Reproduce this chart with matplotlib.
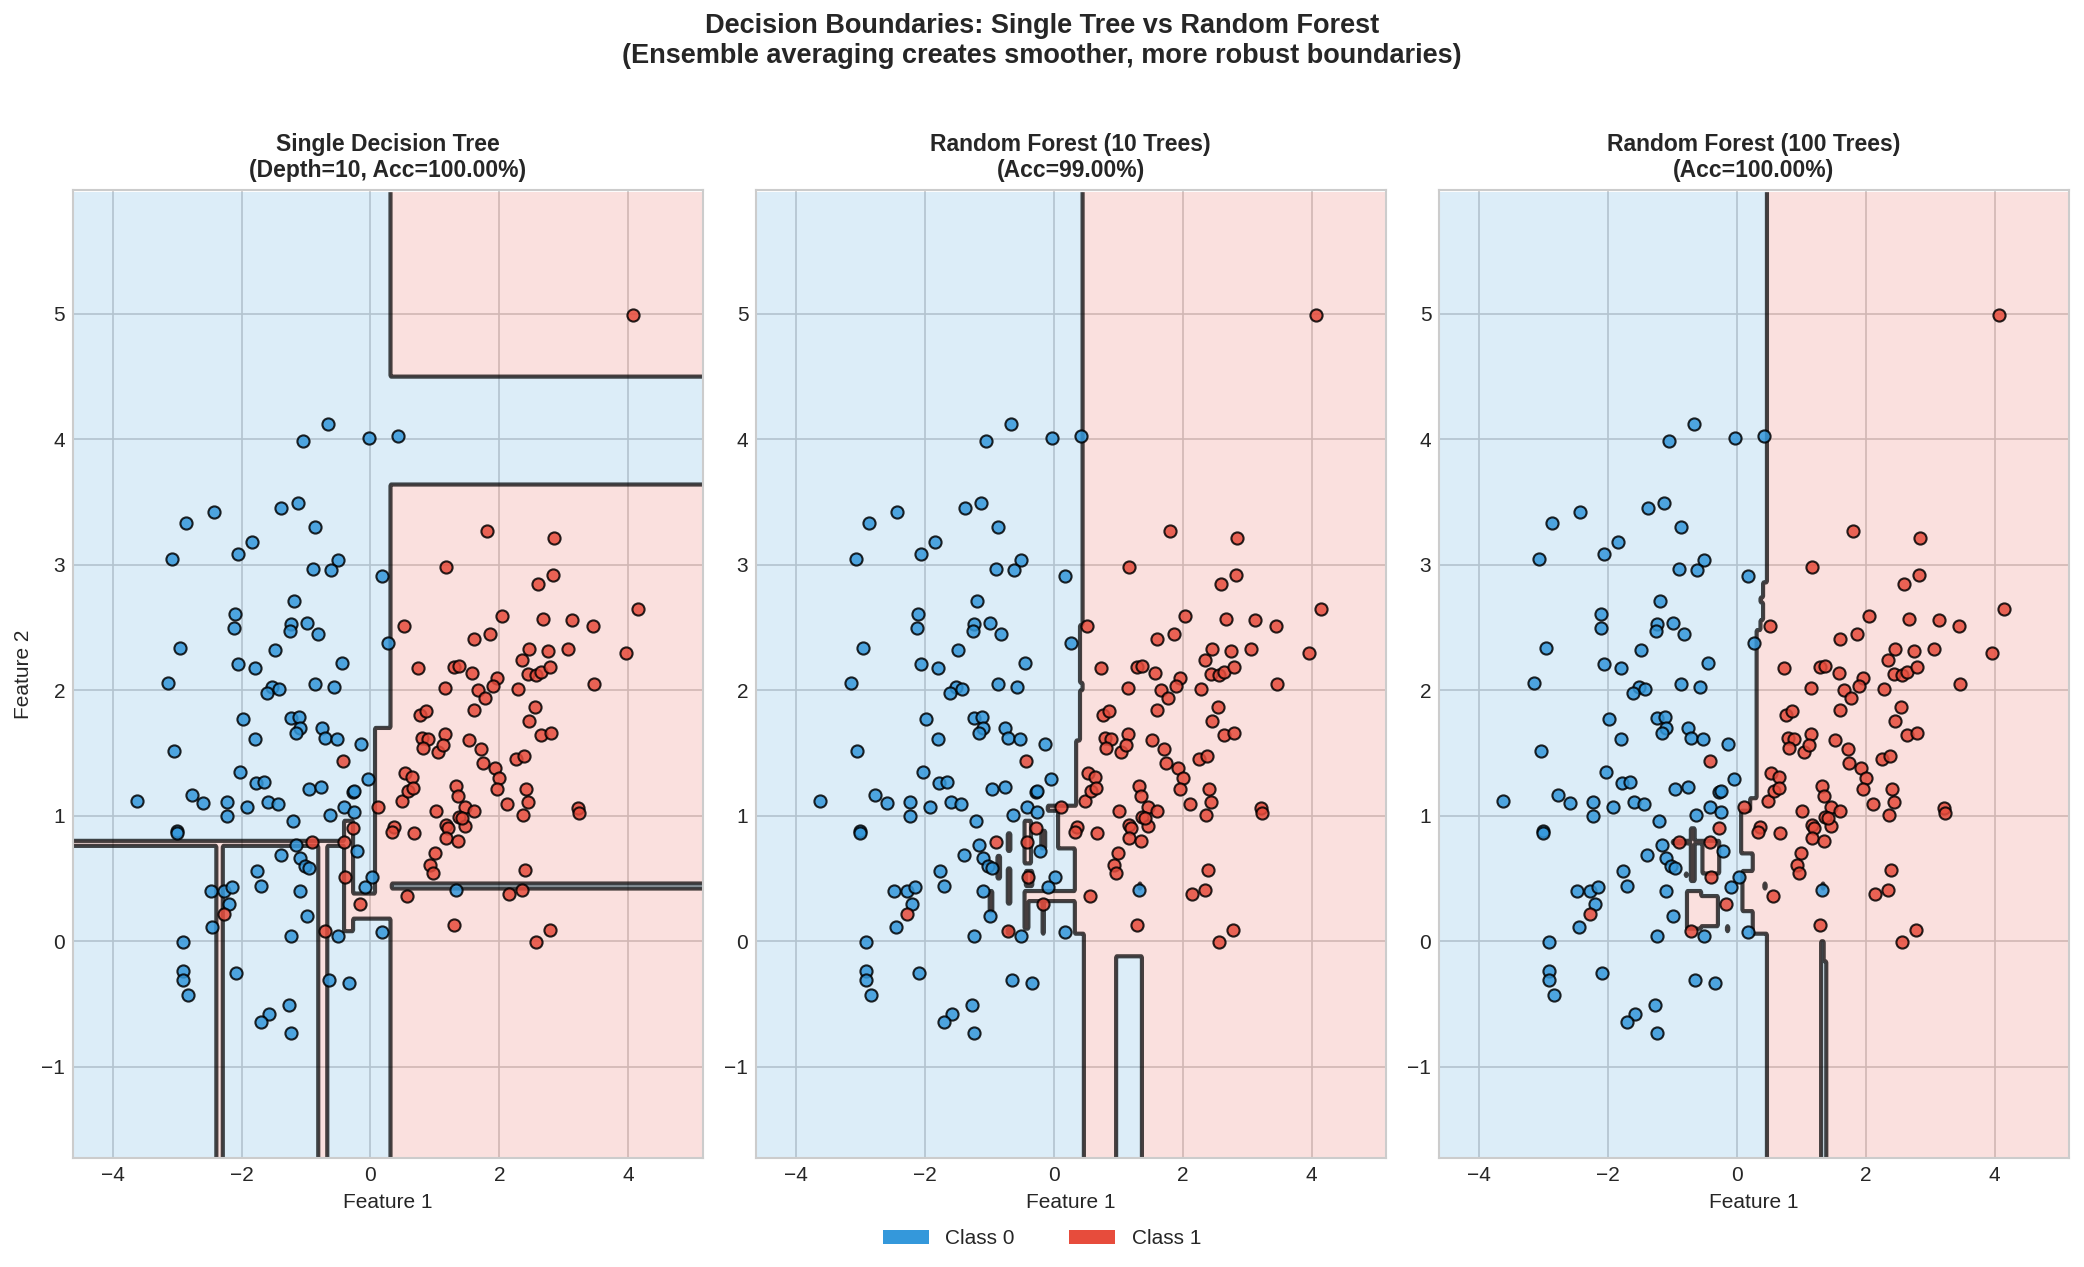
import numpy as np
import matplotlib.pyplot as plt
from matplotlib.patches import Patch

plt.style.use('seaborn-v0_8-whitegrid')
plt.rcParams['font.family'] = ['Liberation Sans', 'DejaVu Sans']

# --- data points ---
class0 = np.array([
    (-0.66, 4.12), (-1.05, 3.99), (-0.02, 4.01), (0.42, 4.03), (-2.43, 3.42), (-2.86, 3.33),
    (-1.38, 3.45), (-1.13, 3.49), (-0.86, 3.30), (-1.84, 3.18), (-2.05, 3.09), (-3.07, 3.05),
    (-0.50, 3.04), (-0.89, 2.97), (-0.61, 2.96), (0.18, 2.91), (-1.19, 2.71), (-2.10, 2.61),
    (-2.11, 2.50), (-1.24, 2.53), (-1.25, 2.47), (-0.99, 2.54), (-0.82, 2.45), (0.27, 2.38),
    (-2.95, 2.34), (-1.48, 2.32), (-2.05, 2.21), (-1.79, 2.18), (-0.44, 2.22), (-3.14, 2.06),
    (-1.52, 2.03), (-1.60, 1.98), (-1.42, 2.01), (-0.86, 2.05), (-0.57, 2.03),
    (-1.98, 1.77), (-1.24, 1.78), (-1.11, 1.79), (-1.09, 1.70), (-1.15, 1.66), (-0.75, 1.70),
    (-0.71, 1.62), (-0.52, 1.61), (-0.14, 1.575), (-1.79, 1.61), (-3.04, 1.52), (-2.03, 1.35),
    (-1.775, 1.26), (-1.65, 1.27), (-0.96, 1.21), (-0.76, 1.23), (-0.04, 1.29), (-0.27, 1.19),
    (-0.25, 1.20), (-3.62, 1.12), (-2.77, 1.165), (-2.59, 1.10), (-2.23, 1.11), (-2.22, 1.00),
    (-1.91, 1.07), (-1.59, 1.11), (-1.44, 1.09), (-0.41, 1.07), (-0.25, 1.03), (-0.63, 1.01),
    (-1.20, 0.96), (-3.00, 0.88), (-3.00, 0.86), (-1.16, 0.77), (-1.39, 0.69), (-1.09, 0.66),
    (-1.01, 0.60), (-0.96, 0.58), (-0.21, 0.72), (-1.76, 0.56), (-1.70, 0.44), (0.03, 0.51),
    (-0.09, 0.43), (-2.47, 0.40), (-2.27, 0.40), (-2.15, 0.43), (-2.20, 0.30), (-1.10, 0.40),
    (-2.45, 0.11), (-0.98, 0.205), (-1.23, 0.04), (-0.51, 0.04), (0.18, 0.07), (-2.91, -0.01),
    (-2.91, -0.24), (-2.91, -0.31), (-2.83, -0.425), (-2.08, -0.255), (-0.65, -0.31),
    (-0.33, -0.33), (-1.27, -0.51), (-1.58, -0.58), (-1.70, -0.64), (-1.24, -0.73), (1.33, 0.41),
])
class1 = np.array([
    (-0.42, 1.44), (-0.27, 0.90), (-0.41, 0.79), (-0.90, 0.79), (-0.39, 0.51), (-0.16, 0.30),
    (-2.27, 0.22), (-0.70, 0.08), (0.12, 1.07), (0.49, 1.12), (0.37, 0.91), (0.33, 0.87),
    (4.07, 4.99), (1.80, 3.27), (2.84, 3.21), (1.165, 2.98), (2.83, 2.92), (2.59, 2.845),
    (4.15, 2.65), (0.52, 2.51), (2.045, 2.59), (2.67, 2.57), (3.13, 2.56), (3.45, 2.51),
    (1.61, 2.41), (1.86, 2.45), (2.46, 2.33), (2.75, 2.315), (3.06, 2.33), (3.96, 2.30),
    (2.345, 2.24), (0.73, 2.175), (1.29, 2.185), (1.37, 2.19), (1.58, 2.14), (1.96, 2.10),
    (1.905, 2.035), (2.44, 2.13), (2.56, 2.12), (2.64, 2.145), (2.79, 2.185), (3.46, 2.05),
    (1.15, 2.02), (1.66, 2.00), (1.78, 1.94), (2.28, 2.01), (2.55, 1.87), (1.60, 1.84),
    (0.76, 1.80), (0.86, 1.835), (2.45, 1.755), (2.645, 1.64), (2.80, 1.66), (0.80, 1.62),
    (0.89, 1.61), (1.15, 1.65), (0.81, 1.54), (1.05, 1.51), (1.12, 1.56), (1.53, 1.60),
    (1.72, 1.53), (1.745, 1.42), (1.925, 1.38), (2.00, 1.30), (1.96, 1.215), (2.25, 1.45),
    (2.38, 1.475), (2.41, 1.21), (2.44, 1.11), (2.365, 1.005), (2.12, 1.09), (3.21, 1.06),
    (3.23, 1.02), (0.54, 1.34), (0.65, 1.305), (0.585, 1.20), (0.66, 1.225), (1.32, 1.24),
    (1.36, 1.16), (1.02, 1.035), (1.465, 1.07), (1.605, 1.04), (1.37, 0.99), (1.465, 0.92),
    (1.42, 0.98), (1.175, 0.925), (1.20, 0.90), (0.67, 0.86), (1.175, 0.82), (1.36, 0.80),
    (1.00, 0.70), (0.93, 0.61), (0.97, 0.545), (2.40, 0.57), (0.57, 0.36), (2.15, 0.38),
    (2.345, 0.41), (1.30, 0.13), (2.78, 0.09), (2.56, -0.005),
])

INF = np.inf
# --- decision regions ---
# bands: (y0, y1, x_split) -> class 1 right of split
# red rects / blue rects: (x0, x1, y0, y1)
tree_bands = []
tree_red = [
    (0.306, INF, 4.495, INF), (0.306, INF, -INF, 3.64), (0.078, 0.306, 0.185, 1.70),
    (-0.27, 0.078, 0.185, 0.39), (-0.42, -0.27, 0.08, 0.953), (-INF, -0.42, 0.77, 0.81),
    (-2.395, -2.30, -INF, 0.79), (-0.82, -0.67, -INF, 0.79),
]
tree_blue = [(0.32, INF, 0.415, 0.46)]

rf10_bands = [
    (2.53, INF, 0.455), (2.06, 2.53, 0.41), (2.00, 2.06, 0.45), (1.60, 2.00, 0.41),
    (1.085, 1.60, 0.355), (1.05, 1.085, -0.09), (0.74, 1.05, 0.07), (0.40, 0.74, 0.326),
    (0.33, 0.40, -0.40), (0.065, 0.33, 0.326), (-INF, 0.065, 0.47),
]
rf10_red = [
    (-0.71, -0.67, 0.72, 0.87), (-0.71, -0.67, 0.30, 0.58), (-0.46, -0.35, 0.62, 0.97),
    (-0.19, -0.13, 0.74, 0.88), (-0.44, -0.33, 0.45, 0.57), (-0.45, -0.40, 0.10, 0.40),
    (-0.18, -0.15, 0.07, 0.33), (-0.72, -0.66, 0.06, 0.11), (-0.87, -0.84, 0.50, 0.68),
    (-0.99, -0.96, 0.25, 0.40),
]
rf10_blue = [(0.96, 1.37, -INF, -0.12), (1.32, 1.35, 0.43, 0.47)]

rf100_bands = [
    (2.87, INF, 0.467), (2.75, 2.87, 0.415), (2.71, 2.75, 0.36), (2.556, 2.71, 0.415),
    (2.476, 2.556, 0.37), (1.14, 2.476, 0.316), (1.05, 1.14, 0.20), (0.70, 1.05, 0.07),
    (0.556, 0.70, 0.25), (0.237, 0.556, 0.09), (0.065, 0.237, 0.25), (-INF, 0.065, 0.467),
]
rf100_red = [
    (-0.99, -0.47, 0.775, 0.81), (-0.71, -0.66, 0.48, 0.90), (-0.53, -0.27, 0.55, 0.80),
    (-0.78, -0.55, 0.10, 0.40), (-0.55, -0.30, 0.12, 0.37), (-0.80, -0.78, 0.52, 0.55),
    (-0.16, -0.14, 0.09, 0.12),
]
rf100_blue = [(1.31, 1.345, -INF, 0.0), (1.31, 1.385, -INF, -0.16), (1.32, 1.35, 0.42, 0.47),
              (0.42, 0.44, 0.43, 0.46)]

titles = ['Single Decision Tree\n(Depth=10, Acc=100.00%)',
          'Random Forest (10 Trees)\n(Acc=99.00%)',
          'Random Forest (100 Trees)\n(Acc=100.00%)']
models = [(tree_bands, tree_red, tree_blue),
          (rf10_bands, rf10_red, rf10_blue),
          (rf100_bands, rf100_red, rf100_blue)]

BLUE = '#3498db'
RED = '#e74c3c'

X = np.vstack([class0, class1])
x_min, x_max = X[:, 0].min() - 1, X[:, 0].max() + 1
y_min, y_max = X[:, 1].min() - 1, X[:, 1].max() + 1
xx, yy = np.meshgrid(np.arange(x_min, x_max, 0.02), np.arange(y_min, y_max, 0.02))


def class_map(bands, red, blue):
    Z = np.zeros_like(xx)
    for y0, y1, xs in bands:
        Z[(yy >= y0) & (yy < y1) & (xx >= xs)] = 1
    for x0, x1, y0, y1 in red:
        Z[(xx >= x0) & (xx < x1) & (yy >= y0) & (yy < y1)] = 1
    for x0, x1, y0, y1 in blue:
        Z[(xx >= x0) & (xx < x1) & (yy >= y0) & (yy < y1)] = 0
    return Z


fig, axes = plt.subplots(1, 3, figsize=(2084 / 150, 1267 / 150), dpi=150)
fig.subplots_adjust(left=0.0348, right=0.9927, bottom=0.0858, top=0.8503, wspace=0.084)

for ax, title, (bands, red, blue) in zip(axes, titles, models):
    Z = class_map(bands, red, blue)
    ax.contourf(xx, yy, Z, levels=[-0.5, 0.5, 1.5], colors=[BLUE, RED], alpha=0.17)
    ax.contour(xx, yy, Z, levels=[0.5], colors='k', linewidths=2, alpha=0.72)
    ax.scatter(class0[:, 0], class0[:, 1], c=BLUE, s=34, edgecolors='k', linewidths=1,
               alpha=0.85, zorder=3)
    ax.scatter(class1[:, 0], class1[:, 1], c=RED, s=34, edgecolors='k', linewidths=1,
               alpha=0.85, zorder=3)
    ax.set_xlim(x_min, x_max)
    ax.set_ylim(y_min, y_max)
    ax.set_xticks([-4, -2, 0, 2, 4])
    ax.set_yticks([-1, 0, 1, 2, 3, 4, 5])
    ax.set_title(title, fontsize=11, fontweight='bold', pad=6)
    ax.set_xlabel('Feature 1', fontsize=10)
    ax.tick_params(labelsize=10)
    for s in ax.spines.values():
        s.set_visible(True)
        s.set_color('#cccccc')

axes[0].set_ylabel('Feature 2', fontsize=10)

fig.suptitle('Decision Boundaries: Single Tree vs Random Forest\n'
             '(Ensemble averaging creates smoother, more robust boundaries)',
             fontsize=13, fontweight='bold', y=0.99, va='top')

handles = [Patch(facecolor=BLUE, label='Class 0'), Patch(facecolor=RED, label='Class 1')]
fig.legend(handles=handles, loc='lower center', ncol=2, fontsize=10, frameon=False,
           bbox_to_anchor=(0.5, 0.0), handlelength=2.2, columnspacing=2.6)

fig.savefig('out.png', dpi=150)
